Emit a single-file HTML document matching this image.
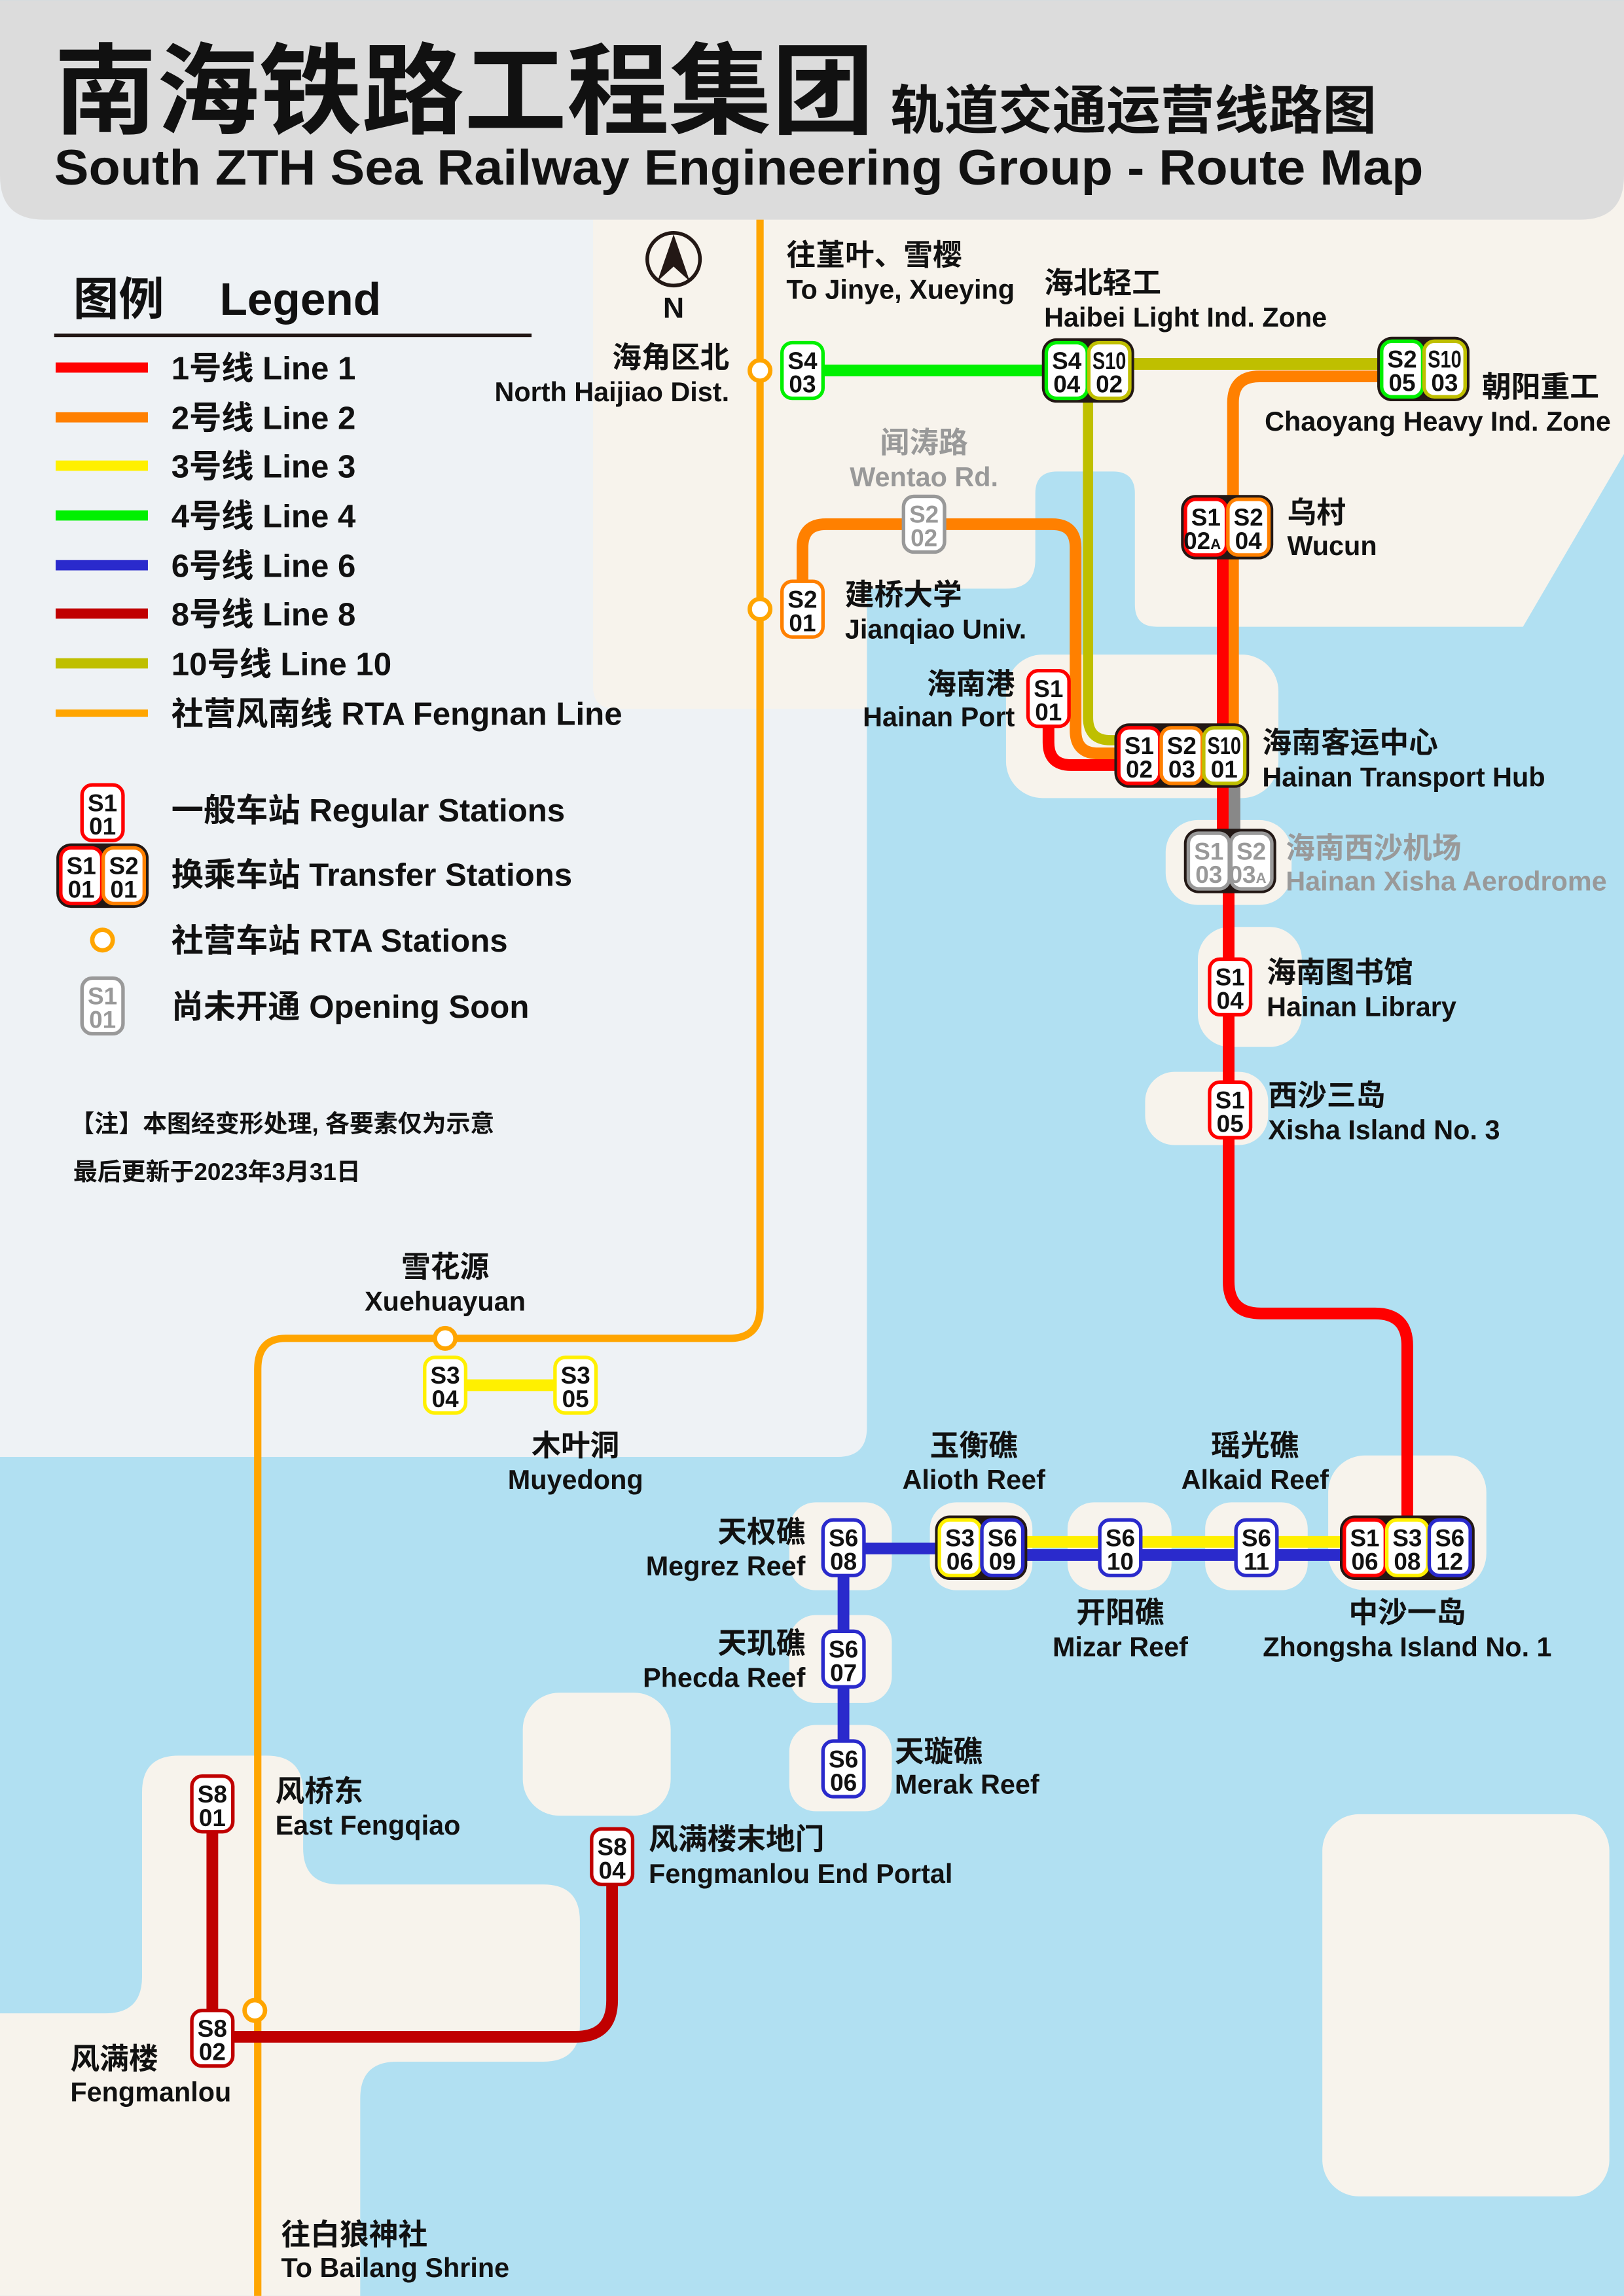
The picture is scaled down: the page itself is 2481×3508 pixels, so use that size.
<!DOCTYPE html>
<html><head><meta charset="utf-8">
<style>
html,body{margin:0;padding:0;background:#b1e0f2;}
svg{display:block;}
text{font-family:"Liberation Sans","Noto Sans CJK SC",sans-serif;font-weight:bold;fill:#111;}
.s{font-size:16.5px;text-anchor:middle;}
.g{fill:#999;}
.zh{font-size:20px;}
.en{font-size:18.5px;}
.m{text-anchor:middle;}
.e{text-anchor:end;}
.lg{font-size:22px;}
.ln{fill:none;stroke-linecap:butt;}
</style></head><body>
<svg width="2481" height="3508" viewBox="0 0 1109 1568" xmlns="http://www.w3.org/2000/svg">
<rect x="0" y="0" width="1109" height="1568" fill="#b1e0f2"/>
<path d="M0,120 H592 V975 Q592,995 572,995 H0 Z" fill="#eef2f5"/>
<path d="M405,120 H1109 V310 L1040,428 H790 Q775,428 775,413 V337 Q775,322 760,322 H722 Q707,322 707,337 V382 Q707,402 687,402 H592 V484 H420 Q405,484 405,469 Z" fill="#f7f3ec"/>
<rect x="687" y="447" width="186" height="98" rx="25" fill="#f7f3ec"/>
<rect x="796" y="560" width="86" height="58" rx="22" fill="#f7f3ec"/>
<rect x="818" y="633" width="71" height="82" rx="22" fill="#f7f3ec"/>
<rect x="782" y="732" width="84" height="50" rx="20" fill="#f7f3ec"/>
<rect x="907" y="994" width="108" height="92" rx="25" fill="#f7f3ec"/>
<rect x="539" y="1026" width="70" height="60" rx="18" fill="#f7f3ec"/>
<rect x="635" y="1026" width="70" height="60" rx="18" fill="#f7f3ec"/>
<rect x="729" y="1026" width="71" height="60" rx="18" fill="#f7f3ec"/>
<rect x="823" y="1026" width="70" height="60" rx="18" fill="#f7f3ec"/>
<rect x="539" y="1103" width="70" height="60" rx="18" fill="#f7f3ec"/>
<rect x="539" y="1178" width="70" height="59" rx="18" fill="#f7f3ec"/>
<rect x="357" y="1156" width="101" height="84" rx="25" fill="#f7f3ec"/>
<rect x="903" y="1239" width="196" height="261" rx="25" fill="#f7f3ec"/>
<path d="M97,1224 Q97,1199 122,1199 H182 Q207,1199 207,1224 V1262 Q207,1287 232,1287 H371 Q396,1287 396,1312 V1383 Q396,1408 371,1408 H271 Q246,1408 246,1433 V1568 H0 V1375 H72 Q97,1375 97,1350 Z" fill="#f7f3ec"/>
<path d="M0,0 H1109 V120 Q1109,150 1079,150 H30 Q0,150 0,120 Z" fill="#dcdcdc"/>
<text x="37" y="86" font-size="68" textLength="560" lengthAdjust="spacingAndGlyphs">南海铁路工程集团</text>
<text x="608" y="88" font-size="36" textLength="332" lengthAdjust="spacingAndGlyphs">轨道交通运营线路图</text>
<text x="37" y="126" font-size="34" textLength="935" lengthAdjust="spacingAndGlyphs">South ZTH Sea Railway Engineering Group - Route Map</text>

<text x="50" y="215" font-size="31">图例</text>
<text x="150" y="215" font-size="31">Legend</text>
<line x1="37" y1="229" x2="363" y2="229" stroke="#231815" stroke-width="2.5"/>
<g stroke-width="7">
<line x1="38" y1="251" x2="101" y2="251" stroke="#ff0000"/>
<line x1="38" y1="285" x2="101" y2="285" stroke="#ff8000"/>
<line x1="38" y1="318" x2="101" y2="318" stroke="#fff000"/>
<line x1="38" y1="352" x2="101" y2="352" stroke="#00f000"/>
<line x1="38" y1="386" x2="101" y2="386" stroke="#2a2acc"/>
<line x1="38" y1="419" x2="101" y2="419" stroke="#c00000"/>
<line x1="38" y1="453" x2="101" y2="453" stroke="#bfbf00"/>
<line x1="38" y1="487" x2="101" y2="487" stroke="#ffa500" stroke-width="5"/>
</g>
<text class="lg" x="117" y="259">1号线 Line 1</text>
<text class="lg" x="117" y="293">2号线 Line 2</text>
<text class="lg" x="117" y="326">3号线 Line 3</text>
<text class="lg" x="117" y="360">4号线 Line 4</text>
<text class="lg" x="117" y="394">6号线 Line 6</text>
<text class="lg" x="117" y="427">8号线 Line 8</text>
<text class="lg" x="117" y="461">10号线 Line 10</text>
<text class="lg" x="117" y="495">社营风南线 RTA Fengnan Line</text>
<text class="lg" x="117" y="561">一般车站 Regular Stations</text>
<text class="lg" x="117" y="605">换乘车站 Transfer Stations</text>
<text class="lg" x="117" y="650">社营车站 RTA Stations</text>
<text class="lg" x="117" y="695">尚未开通 Opening Soon</text>
<text x="48" y="773" font-size="16.5">【注】本图经变形处理, 各要素仅为示意</text>
<text x="50" y="806" font-size="16.5">最后更新于2023年3月31日</text>

<circle cx="460" cy="177" r="18" fill="none" stroke="#231815" stroke-width="2.5"/>
<polygon points="460,160 449,192 460,182 471,192" fill="#231815"/>
<text x="460" y="217" font-size="20" class="m">N</text>

<path class="ln" d="M519,150 V893 Q519,914 498,914 H195 Q176,914 176,935 V1568" stroke="#ffa500" stroke-width="5"/>
<path class="ln" d="M958,257 H860 Q842,257 842,275 V516" stroke="#ff8000" stroke-width="8"/>
<path class="ln" d="M790,514.5 H750 Q734.5,514.5 734.5,499 V374 Q734.5,358 718.5,358 H564 Q548,358 548,374 V416" stroke="#ff8000" stroke-width="8"/>
<path class="ln" d="M972,248.5 H743" stroke="#bfbf00" stroke-width="8"/>
<path class="ln" d="M743,253 V490 Q743,505.5 758.5,505.5 H790" stroke="#bfbf00" stroke-width="7"/>
<path class="ln" d="M548,253 H743" stroke="#00f000" stroke-width="8"/>
<path class="ln" d="M843,520 V590" stroke="#888" stroke-width="8"/>
<path class="ln" d="M716,477 V507 Q716,522.5 731.5,522.5 H790" stroke="#ff0000" stroke-width="8"/>
<path class="ln" d="M835,360 V575" stroke="#ff0000" stroke-width="8"/>
<path class="ln" d="M839,588 V875 Q839,897 861,897 H939 Q961,897 961,919 V1057" stroke="#ff0000" stroke-width="8"/>
<path class="ln" d="M304,946 H393" stroke="#fff000" stroke-width="8"/>
<path class="ln" d="M670,1053 H961" stroke="#fff000" stroke-width="8"/>
<path class="ln" d="M576,1208 V1057.5 H670" stroke="#2a2acc" stroke-width="8"/>
<path class="ln" d="M670,1062 H961" stroke="#2a2acc" stroke-width="8"/>
<path class="ln" d="M145,1232 V1391 H393 Q418,1391 418,1366 V1268" stroke="#c00000" stroke-width="8"/>

<g fill="#fff" stroke="#ffa500" stroke-width="3">
<circle cx="519" cy="253" r="7"/>
<circle cx="519" cy="416" r="7"/>
<circle cx="304" cy="914" r="7"/>
<circle cx="174" cy="1373" r="7"/>
<circle cx="70" cy="642" r="7"/>
</g>

<g fill="#231815">
<rect x="711.5" y="231" width="63" height="44" rx="10"/>
<rect x="940.5" y="230" width="63" height="44" rx="10"/>
<rect x="806.5" y="338" width="63" height="44" rx="10"/>
<rect x="808.5" y="566" width="63" height="44" rx="10"/>
<rect x="638.5" y="1035" width="63" height="44" rx="10"/>
<rect x="38.5" y="576" width="63" height="44" rx="10"/>
<rect x="761" y="494" width="92" height="44" rx="10"/>
<rect x="915" y="1035" width="92" height="44" rx="10"/>
</g>

<g fill="#fff" stroke-width="2.4">
<rect x="534" y="234" width="28" height="38" rx="7" stroke="#00f000"/>
<rect x="534" y="397" width="28" height="38" rx="7" stroke="#ff8000"/>
<rect x="617" y="339" width="28" height="38" rx="7" stroke="#999"/>
<rect x="702" y="458" width="28" height="38" rx="7" stroke="#ff0000"/>
<rect x="826" y="655" width="28" height="38" rx="7" stroke="#ff0000"/>
<rect x="826" y="739" width="28" height="38" rx="7" stroke="#ff0000"/>
<rect x="290" y="927" width="28" height="38" rx="7" stroke="#fff000"/>
<rect x="379" y="927" width="28" height="38" rx="7" stroke="#fff000"/>
<rect x="562" y="1038" width="28" height="38" rx="7" stroke="#2a2acc"/>
<rect x="562" y="1114" width="28" height="38" rx="7" stroke="#2a2acc"/>
<rect x="562" y="1189" width="28" height="38" rx="7" stroke="#2a2acc"/>
<rect x="751" y="1038" width="28" height="38" rx="7" stroke="#2a2acc"/>
<rect x="844" y="1038" width="28" height="38" rx="7" stroke="#2a2acc"/>
<rect x="131" y="1213" width="28" height="38" rx="7" stroke="#c00000"/>
<rect x="131" y="1373" width="28" height="38" rx="7" stroke="#c00000"/>
<rect x="404" y="1249" width="28" height="38" rx="7" stroke="#c00000"/>
<rect x="56" y="536" width="28" height="38" rx="7" stroke="#ff0000"/>
<rect x="56" y="668" width="28" height="38" rx="7" stroke="#999"/>
<rect x="714.5" y="234" width="28" height="38" rx="7" stroke="#00f000"/>
<rect x="743.5" y="234" width="28" height="38" rx="7" stroke="#bfbf00"/>
<rect x="943.5" y="233" width="28" height="38" rx="7" stroke="#00f000"/>
<rect x="972.5" y="233" width="28" height="38" rx="7" stroke="#bfbf00"/>
<rect x="809.5" y="341" width="28" height="38" rx="7" stroke="#ff0000"/>
<rect x="838.5" y="341" width="28" height="38" rx="7" stroke="#ff8000"/>
<rect x="811.5" y="569" width="28" height="38" rx="7" stroke="#999"/>
<rect x="840.5" y="569" width="28" height="38" rx="7" stroke="#999"/>
<rect x="641.5" y="1038" width="28" height="38" rx="7" stroke="#fff000"/>
<rect x="670.5" y="1038" width="28" height="38" rx="7" stroke="#2a2acc"/>
<rect x="41.5" y="579" width="28" height="38" rx="7" stroke="#ff0000"/>
<rect x="70.5" y="579" width="28" height="38" rx="7" stroke="#ff8000"/>
<rect x="764" y="497" width="28" height="38" rx="7" stroke="#ff0000"/>
<rect x="793" y="497" width="28" height="38" rx="7" stroke="#ff8000"/>
<rect x="822" y="497" width="28" height="38" rx="7" stroke="#bfbf00"/>
<rect x="918" y="1038" width="28" height="38" rx="7" stroke="#ff0000"/>
<rect x="947" y="1038" width="28" height="38" rx="7" stroke="#fff000"/>
<rect x="976" y="1038" width="28" height="38" rx="7" stroke="#2a2acc"/>
</g>

<g>
<text class="s" x="548" y="252">S4</text><text class="s" x="548" y="268">03</text>
<text class="s" x="548" y="415">S2</text><text class="s" x="548" y="431">01</text>
<text class="s g" x="631" y="357">S2</text><text class="s g" x="631" y="373">02</text>
<text class="s" x="716" y="476">S1</text><text class="s" x="716" y="492">01</text>
<text class="s" x="840" y="673">S1</text><text class="s" x="840" y="689">04</text>
<text class="s" x="840" y="757">S1</text><text class="s" x="840" y="773">05</text>
<text class="s" x="304" y="945">S3</text><text class="s" x="304" y="961">04</text>
<text class="s" x="393" y="945">S3</text><text class="s" x="393" y="961">05</text>
<text class="s" x="576" y="1056">S6</text><text class="s" x="576" y="1072">08</text>
<text class="s" x="576" y="1132">S6</text><text class="s" x="576" y="1148">07</text>
<text class="s" x="576" y="1207">S6</text><text class="s" x="576" y="1223">06</text>
<text class="s" x="765" y="1056">S6</text><text class="s" x="765" y="1072">10</text>
<text class="s" x="858" y="1056">S6</text><text class="s" x="858" y="1072">11</text>
<text class="s" x="145" y="1231">S8</text><text class="s" x="145" y="1247">01</text>
<text class="s" x="145" y="1391">S8</text><text class="s" x="145" y="1407">02</text>
<text class="s" x="418" y="1267">S8</text><text class="s" x="418" y="1283">04</text>
<text class="s" x="70" y="554">S1</text><text class="s" x="70" y="570">01</text>
<text class="s g" x="70" y="686">S1</text><text class="s g" x="70" y="702">01</text>

<text class="s" x="728.5" y="252">S4</text><text class="s" x="728.5" y="268">04</text>
<text class="s" x="757.5" y="252" textLength="23" lengthAdjust="spacingAndGlyphs">S10</text><text class="s" x="757.5" y="268">02</text>
<text class="s" x="957.5" y="251">S2</text><text class="s" x="957.5" y="267">05</text>
<text class="s" x="986.5" y="251" textLength="23" lengthAdjust="spacingAndGlyphs">S10</text><text class="s" x="986.5" y="267">03</text>
<text class="s" x="823.5" y="359">S1</text><text class="s" x="821" y="375">02<tspan font-size="10">A</tspan></text>
<text class="s" x="852.5" y="359">S2</text><text class="s" x="852.5" y="375">04</text>
<text class="s g" x="825.5" y="587">S1</text><text class="s g" x="825.5" y="603">03</text>
<text class="s g" x="854.5" y="587">S2</text><text class="s g" x="852" y="603">03<tspan font-size="10">A</tspan></text>
<text class="s" x="655.5" y="1056">S3</text><text class="s" x="655.5" y="1072">06</text>
<text class="s" x="684.5" y="1056">S6</text><text class="s" x="684.5" y="1072">09</text>
<text class="s" x="55.5" y="597">S1</text><text class="s" x="55.5" y="613">01</text>
<text class="s" x="84.5" y="597">S2</text><text class="s" x="84.5" y="613">01</text>
<text class="s" x="778" y="515">S1</text><text class="s" x="778" y="531">02</text>
<text class="s" x="807" y="515">S2</text><text class="s" x="807" y="531">03</text>
<text class="s" x="836" y="515" textLength="23" lengthAdjust="spacingAndGlyphs">S10</text><text class="s" x="836" y="531">01</text>
<text class="s" x="932" y="1056">S1</text><text class="s" x="932" y="1072">06</text>
<text class="s" x="961" y="1056">S3</text><text class="s" x="961" y="1072">08</text>
<text class="s" x="990" y="1056">S6</text><text class="s" x="990" y="1072">12</text>
</g>

<text class="zh" x="537" y="181">往堇叶、雪樱</text>
<text class="en" x="537" y="204">To Jinye, Xueying</text>
<text class="zh" x="713" y="200">海北轻工</text>
<text class="en" x="713" y="223">Haibei Light Ind. Zone</text>
<text class="zh e" x="498" y="251">海角区北</text>
<text class="en e" x="498" y="274">North Haijiao Dist.</text>
<text class="zh" x="1012" y="271">朝阳重工</text>
<text class="en e" x="1100" y="294">Chaoyang Heavy Ind. Zone</text>
<text class="zh m g" x="631" y="309">闻涛路</text>
<text class="en m g" x="631" y="332">Wentao Rd.</text>
<text class="zh" x="879" y="357">乌村</text>
<text class="en" x="879" y="379">Wucun</text>
<text class="zh" x="577" y="413">建桥大学</text>
<text class="en" x="577" y="436">Jianqiao Univ.</text>
<text class="zh e" x="693" y="474">海南港</text>
<text class="en e" x="693" y="496">Hainan Port</text>
<text class="zh" x="862" y="514">海南客运中心</text>
<text class="en" x="862" y="537">Hainan Transport Hub</text>
<text class="zh g" x="878" y="586">海南西沙机场</text>
<text class="en g" x="878" y="608">Hainan Xisha Aerodrome</text>
<text class="zh" x="865" y="671">海南图书馆</text>
<text class="en" x="865" y="694">Hainan Library</text>
<text class="zh" x="866" y="755">西沙三岛</text>
<text class="en" x="866" y="778">Xisha Island No. 3</text>
<text class="zh m" x="304" y="872">雪花源</text>
<text class="en m" x="304" y="895">Xuehuayuan</text>
<text class="zh m" x="393" y="994">木叶洞</text>
<text class="en m" x="393" y="1017">Muyedong</text>
<text class="zh m" x="665" y="994">玉衡礁</text>
<text class="en m" x="665" y="1017">Alioth Reef</text>
<text class="zh m" x="857" y="994">瑶光礁</text>
<text class="en m" x="857" y="1017">Alkaid Reef</text>
<text class="zh e" x="550" y="1053">天权礁</text>
<text class="en e" x="550" y="1076">Megrez Reef</text>
<text class="zh m" x="765" y="1108">开阳礁</text>
<text class="en m" x="765" y="1131">Mizar Reef</text>
<text class="zh m" x="961" y="1108">中沙一岛</text>
<text class="en m" x="961" y="1131">Zhongsha Island No. 1</text>
<text class="zh e" x="550" y="1129">天玑礁</text>
<text class="en e" x="550" y="1152">Phecda Reef</text>
<text class="zh" x="611" y="1203">天璇礁</text>
<text class="en" x="611" y="1225">Merak Reef</text>
<text class="zh" x="188" y="1230">风桥东</text>
<text class="en" x="188" y="1253">East Fengqiao</text>
<text class="zh" x="443" y="1263">风满楼末地门</text>
<text class="en" x="443" y="1286">Fengmanlou End Portal</text>
<text class="zh" x="48" y="1413">风满楼</text>
<text class="en" x="48" y="1435">Fengmanlou</text>
<text class="zh" x="192" y="1533">往白狼神社</text>
<text class="en" x="192" y="1555">To Bailang Shrine</text>
</svg>
</body></html>
